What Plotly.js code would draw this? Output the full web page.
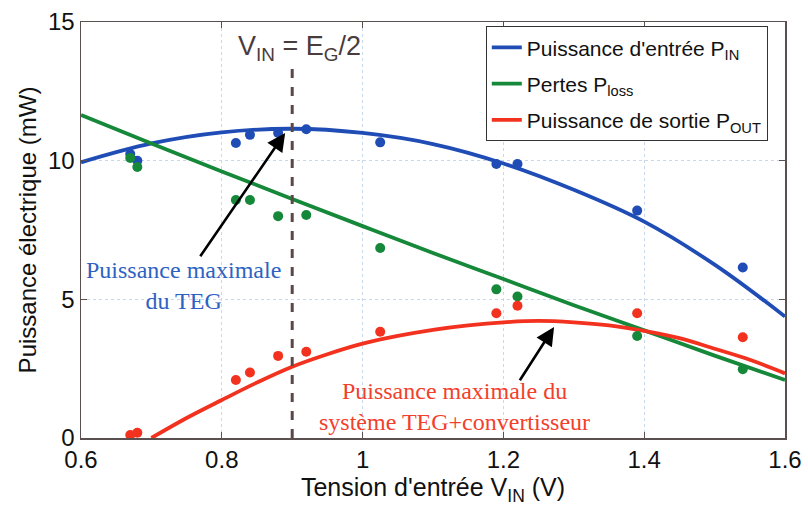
<!DOCTYPE html>
<html>
<head>
<meta charset="utf-8">
<script src="https://cdn.plot.ly/plotly-3.0.1.min.js"></script>
<style>html,body{margin:0;padding:0;background:#fff;}#chart{width:808px;height:507px;}</style>
</head>
<body>
<div id="chart"></div>
<script>
// Measured points
const vMeas = [0.67, 0.68, 0.82, 0.84, 0.88, 0.92, 1.025, 1.19, 1.22, 1.39, 1.54];
const pInMeas = [10.24, 10.0, 10.64, 10.93, 11.0, 11.13, 10.66, 9.88, 9.88, 8.2, 6.15];
const pLossMeas = [10.1, 9.77, 8.58, 8.58, 8.0, 8.04, 6.85, 5.36, 5.1, 3.68, 2.48];
const pOutMeas = [0.11, 0.19, 2.09, 2.36, 2.96, 3.11, 3.83, 4.5, 4.77, 4.5, 3.63];

// Fitted curves
const vFit = [0.6, 0.7, 0.8, 0.9, 1.0, 1.1, 1.2, 1.3, 1.4, 1.5, 1.6];
const pInFit = [9.94, 10.62, 11.02, 11.15, 11.0, 10.6, 9.9, 8.95, 7.8, 6.25, 4.38];
const pLossFit = [11.65, 10.62, 9.61, 8.62, 7.64, 6.67, 5.73, 4.79, 3.88, 2.97, 2.09];
const vOutFit = [0.7, 0.75, 0.8, 0.85, 0.9, 0.95, 1.0, 1.05, 1.1, 1.15, 1.2, 1.25, 1.3, 1.35, 1.4, 1.45, 1.5, 1.55, 1.6];
const pOutFit = [0.0, 0.72, 1.37, 2.0, 2.57, 3.02, 3.4, 3.68, 3.9, 4.06, 4.17, 4.22, 4.17, 4.06, 3.86, 3.6, 3.22, 2.82, 2.33];

const xTicks = [0.6, 0.8, 1.0, 1.2, 1.4, 1.6];
const xTickLabels = ['0.6', '0.8', '1', '1.2', '1.4', '1.6'];
const yTicks = [0, 5, 10, 15];

const vOpt = 0.9;          // V_IN = E_G/2
const vOptTop = 13.35;

const arrowTEG = {head: [0.89, 11.0], tail: [0.768, 6.5]};
const arrowSys = {head: [1.272, 4.0], tail: [1.222, 2.03]};

const cBlue = '#1f4db5', cGreen = '#16883a', cRed = '#f2321f';

const traces = [
  {x: vFit, y: pInFit, mode: 'lines', line: {color: cBlue, width: 3.8, shape: 'spline'}, name: "Puissance d'entrée P<sub>IN</sub>", legendgroup: 'a'},
  {x: vFit, y: pLossFit, mode: 'lines', line: {color: cGreen, width: 3.8, shape: 'spline'}, name: 'Pertes P<sub>loss</sub>', legendgroup: 'b'},
  {x: vOutFit, y: pOutFit, mode: 'lines', line: {color: cRed, width: 3.8, shape: 'spline'}, name: 'Puissance de sortie P<sub>OUT</sub>', legendgroup: 'c'},
  {x: vMeas, y: pInMeas, mode: 'markers', marker: {color: cBlue, size: 10}, showlegend: false},
  {x: vMeas, y: pLossMeas, mode: 'markers', marker: {color: cGreen, size: 10}, showlegend: false},
  {x: vMeas, y: pOutMeas, mode: 'markers', marker: {color: cRed, size: 10}, showlegend: false}
];

const axisCommon = {
  showline: true, mirror: 'ticks', linecolor: '#5a5050', linewidth: 1.5,
  ticks: 'inside', ticklen: 6, tickcolor: '#5a5050',
  showgrid: true, gridcolor: '#c6d8ea', griddash: 'dot', gridwidth: 1,
  zeroline: false,
  tickfont: {family: 'Liberation Sans, Arial, sans-serif', size: 24, color: '#111'}
};

const layout = {
  width: 808, height: 507,
  margin: {l: 81, r: 23, t: 22, b: 69},
  paper_bgcolor: '#fff', plot_bgcolor: '#fff',
  font: {family: 'Liberation Sans, Arial, sans-serif', color: '#111'},
  xaxis: Object.assign({}, axisCommon, {
    range: [0.6, 1.6], tickvals: xTicks, ticktext: xTickLabels,
    title: {text: "Tension d'entrée V<sub>IN</sub> (V)", font: {size: 25, color: '#111'}, standoff: 0}
  }),
  yaxis: Object.assign({}, axisCommon, {
    range: [0, 15], tickvals: yTicks,
    title: {text: 'Puissance électrique (mW)', font: {size: 24, color: '#111'}, standoff: 4}
  }),
  showlegend: true,
  legend: {
    x: 0.575, y: 0.99, xanchor: 'left', yanchor: 'top',
    bgcolor: '#fff', bordercolor: '#333', borderwidth: 1,
    font: {size: 21, color: '#111'}, tracegroupgap: 6, itemwidth: 30
  },
  shapes: [
    {type: 'line', xref: 'x', yref: 'y', x0: vOpt, x1: vOpt, y0: 0, y1: vOptTop,
     line: {color: '#5a4848', width: 3, dash: 'dash'}}
  ],
  annotations: [
    {x: vOpt + 0.01, y: 14.05, xref: 'x', yref: 'y', yanchor: 'middle', showarrow: false,
     text: 'V<sub>IN</sub> = E<sub>G</sub>/2', font: {size: 27, color: '#4a3c3c'}},
    {x: arrowTEG.head[0], y: arrowTEG.head[1], ax: arrowTEG.tail[0], ay: arrowTEG.tail[1],
     xref: 'x', yref: 'y', axref: 'x', ayref: 'y', showarrow: true, arrowhead: 2,
     arrowsize: 1.4, arrowwidth: 2.6, arrowcolor: '#000', text: ''},
    {x: arrowSys.head[0], y: arrowSys.head[1], ax: arrowSys.tail[0], ay: arrowSys.tail[1],
     xref: 'x', yref: 'y', axref: 'x', ayref: 'y', showarrow: true, arrowhead: 2,
     arrowsize: 1.4, arrowwidth: 2.6, arrowcolor: '#000', text: ''},
    {x: 0.745, y: 5.5, xref: 'x', yref: 'y', showarrow: false,
     text: 'Puissance maximale<br>du TEG', align: 'center',
     font: {family: 'Liberation Serif, Times New Roman, serif', size: 24, color: '#2e62c2'}},
    {x: 1.13, y: 1.12, xref: 'x', yref: 'y', showarrow: false,
     text: 'Puissance maximale du<br>système TEG+convertisseur', align: 'center',
     font: {family: 'Liberation Serif, Times New Roman, serif', size: 24, color: '#f2402c'}}
  ]
};

Plotly.newPlot('chart', traces, layout, {staticPlot: true});
</script>
</body>
</html>
